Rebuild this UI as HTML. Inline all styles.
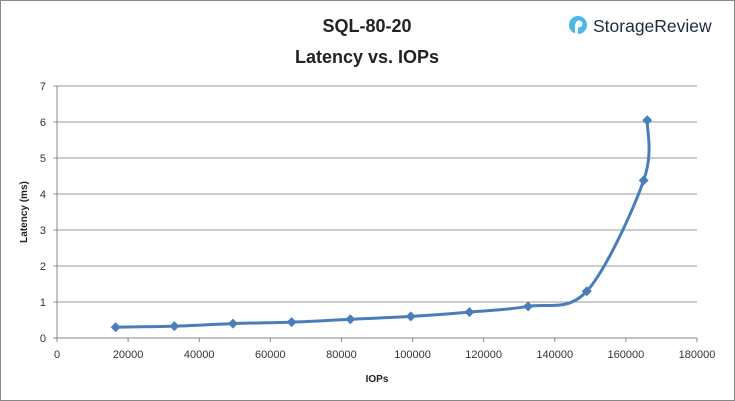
<!DOCTYPE html>
<html><head><meta charset="utf-8"><style>
body{margin:0;background:#fff}
svg{display:block;font-family:"Liberation Sans",sans-serif}
</style></head><body>
<svg id="c" width="735" height="401">
<rect x="0.5" y="0.5" width="734" height="400" fill="#fff" stroke="#888"/>
<text x="367" y="32" text-anchor="middle" font-size="18" font-weight="bold" fill="#222">SQL-80-20</text>
<text x="367" y="63" text-anchor="middle" font-size="18" font-weight="bold" fill="#222">Latency vs. IOPs</text>
<g>
<circle cx="578" cy="25" r="9" fill="#4db8e8"/>
<circle cx="579" cy="24" r="3.5" fill="#fff"/>
<rect x="575" y="24" width="3" height="10" fill="#fff"/>
<text x="593" y="32" font-size="17.5" fill="#1d2b3a">StorageReview</text>
</g>
<g id="grid"></g>
<g id="axes"></g>
<g id="series"></g>
<text x="377" y="382" text-anchor="middle" font-size="10" font-weight="bold" fill="#222">IOPs</text>
<text x="0" y="0" text-anchor="middle" font-size="10" font-weight="bold" fill="#222" transform="translate(27,212) rotate(-90)">Latency (ms)</text>
</svg>
<script>
const iops=[16500,33000,49500,66000,82500,99500,116000,132500,149000,165000,166000];
const latency=[0.3,0.33,0.4,0.44,0.52,0.6,0.72,0.88,1.3,4.38,6.05];
const xTicks=[0,20000,40000,60000,80000,100000,120000,140000,160000,180000];
const yTicks=[0,1,2,3,4,5,6,7];
const X0=57,X1=697,Y0=338,Y1=86,XMAX=180000,YMAX=7;
const sx=v=>X0+(X1-X0)*v/XMAX, sy=v=>Y0-(Y0-Y1)*v/YMAX;
const NS="http://www.w3.org/2000/svg";
function mk(t,a,p){const e=document.createElementNS(NS,t);for(const k in a)e.setAttribute(k,a[k]);p.appendChild(e);return e;}
const grid=document.getElementById('grid'),axes=document.getElementById('axes'),ser=document.getElementById('series');
yTicks.forEach(v=>{
 const l=mk('line',{x1:X0-4,x2:X1,y1:sy(v),y2:sy(v),stroke:v===0?'#888':'#999','stroke-width':1},grid);
 
 
 const t=mk('text',{x:X0-11,y:sy(v)+4,'text-anchor':'end','font-size':11,fill:'#333'},axes);
 t.textContent=v;
 
 
});
const ya=mk('line',{x1:X0,x2:X0,y1:Y1,y2:Y0,stroke:'#888'},axes);


xTicks.forEach(v=>{
 const l=mk('line',{x1:sx(v),x2:sx(v),y1:Y0,y2:Y0+4,stroke:'#888'},axes);
 
 
 const t=mk('text',{x:sx(v),y:Y0+20,'text-anchor':'middle','font-size':11,fill:'#333'},axes);
 t.textContent=v;
 
 
});
const P=iops.map((v,i)=>[sx(v),sy(latency[i])]);
let d=`M${P[0][0]},${P[0][1]}`;
for(let i=0;i<P.length-1;i++){
 const p0=P[Math.max(0,i-1)],p1=P[i],p2=P[i+1],p3=P[Math.min(P.length-1,i+2)],k=1/6;
 d+=` C${p1[0]+(p2[0]-p0[0])*k},${p1[1]+(p2[1]-p0[1])*k} ${p2[0]-(p3[0]-p1[0])*k},${p2[1]-(p3[1]-p1[1])*k} ${p2[0]},${p2[1]}`;
}
const line=mk('path',{d:d,fill:'none',stroke:'#4a7ebb','stroke-width':3},ser);


P.forEach(p=>{
 const m=mk('path',{d:`M${p[0]},${p[1]-5}L${p[0]+5},${p[1]}L${p[0]},${p[1]+5}L${p[0]-5},${p[1]}Z`,fill:'#4a7ebb'},ser);
 
 
});
</script>
</body></html>
